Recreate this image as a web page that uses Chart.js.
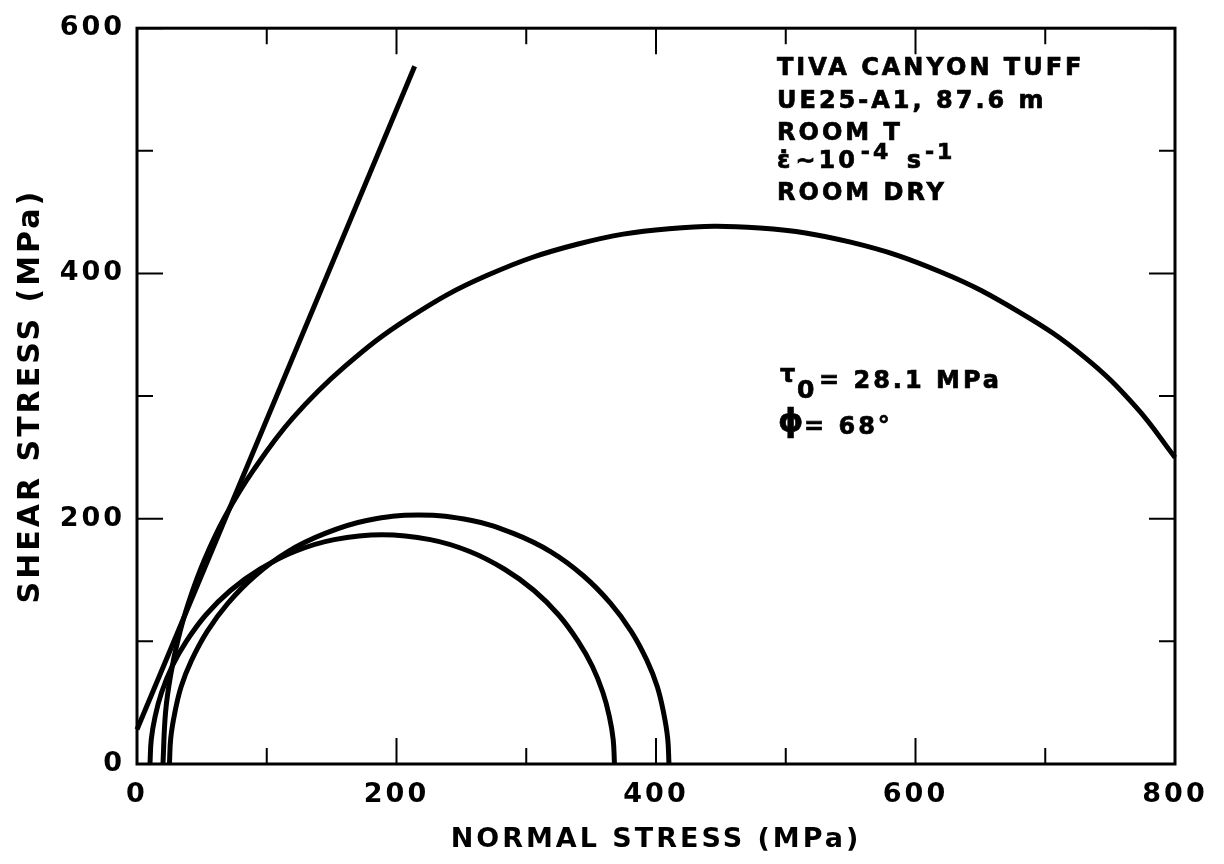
<!DOCTYPE html>
<html>
<head>
<meta charset="utf-8">
<script src="https://cdn.jsdelivr.net/npm/chart.js@4.4.1/dist/chart.umd.min.js"></script>
<style>
  html, body { margin: 0; padding: 0; background: #fff; }
  #wrap { width: 1224px; height: 864px; }
</style>
</head>
<body>
<div id="wrap"><canvas id="grafico"></canvas></div>
<script>
// Mohr circles (normal stress, shear stress in MPa)
const circuloMenorX = [10, 11, 14, 19, 27, 38, 53, 72, 95, 122, 152, 189, 226, 256, 283, 306, 325, 340, 351, 359, 364, 367, 368];
const circuloMenorY = [0, 20, 39, 58.5, 79.5, 100, 121.5, 141.5, 159, 173.5, 183, 187, 183, 173.5, 159, 141.5, 121.5, 100, 79.5, 58.5, 39, 20, 0];

const circuloMedioX = [25, 26, 29, 34, 42, 54, 70, 91, 116, 145, 177, 217, 258, 290, 319, 344, 365, 381, 393, 401, 406, 409, 410];
const circuloMedioY = [0, 21, 41, 63, 84.5, 108, 131, 153.5, 173, 188, 198.5, 203, 198.5, 188, 173, 153.5, 131, 108, 84.5, 63, 41, 21, 0];

const circuloMaiorX = [20, 22, 26, 32, 40, 52, 68, 90, 120, 160, 210, 270, 340, 410, 480, 550, 620, 680, 730, 770, 800];
const circuloMaiorY = [0, 42, 73, 103, 132.5, 166.5, 202, 240, 282, 324, 364, 398.5, 424, 436.5, 437, 425.5, 401, 368.5, 332, 291, 250];

// failure envelope, tau0 = 28.1 MPa, phi = 68 deg
const envoltoriaX = [0, 214];
const envoltoriaY = [28.1, 569];

const ticksX = [0, 100, 200, 300, 400, 500, 600, 700, 800];
const ticksY = [0, 100, 200, 300, 400, 500, 600];
const rotulosX = [0, 200, 400, 600, 800];
const rotulosY = [0, 200, 400, 600];

const FONTE = '"DejaVu Sans", "Liberation Sans", sans-serif';

function pares(xs, ys) {
  return xs.map((x, i) => ({ x: x, y: ys[i] }));
}

function serie(xs, ys, curva) {
  return {
    data: pares(xs, ys),
    showLine: true,
    borderColor: "#000",
    borderWidth: 5,
    pointRadius: 0,
    fill: false,
    tension: curva ? 0.4 : 0,
    clip: 6
  };
}

function escreve(ctx, texto, x, y, tamanho) {
  ctx.font = "bold " + tamanho + "px " + FONTE;
  ctx.fillText(texto, x, y);
  ctx.strokeText(texto, x, y);
  return x + ctx.measureText(texto).width;
}

const espacamento = {
  id: "espacamento",
  beforeDraw(chart) {
    chart.ctx.letterSpacing = "3px";
  }
};

const moldura = {
  id: "moldura",
  afterDatasetsDraw(chart) {
    const { ctx, chartArea: a, scales: { x, y } } = chart;
    ctx.save();
    ctx.strokeStyle = "#000";
    ctx.lineWidth = 2;
    ctx.beginPath();
    ticksX.forEach(v => {
      const px = x.getPixelForValue(v);
      const len = rotulosX.includes(v) ? 26 : 16;
      ctx.moveTo(px, a.bottom); ctx.lineTo(px, a.bottom - len);
      ctx.moveTo(px, a.top); ctx.lineTo(px, a.top + len);
    });
    ticksY.forEach(v => {
      const py = y.getPixelForValue(v);
      const len = rotulosY.includes(v) ? 26 : 16;
      ctx.moveTo(a.left, py); ctx.lineTo(a.left + len, py);
      ctx.moveTo(a.right, py); ctx.lineTo(a.right - len, py);
    });
    ctx.stroke();
    ctx.lineWidth = 3;
    ctx.strokeRect(a.left, a.top, a.right - a.left, a.bottom - a.top);
    ctx.restore();
  }
};

const anotacoes = {
  id: "anotacoes",
  afterDraw(chart) {
    const ctx = chart.ctx;
    ctx.save();
    ctx.fillStyle = "#000";
    ctx.strokeStyle = "#000";
    ctx.lineWidth = 0.7;
    ctx.textAlign = "left";
    ctx.textBaseline = "alphabetic";
    ctx.letterSpacing = "3px";
    const x0 = 777;
    escreve(ctx, "TIVA CANYON TUFF", x0, 75, 24);
    escreve(ctx, "UE25-A1, 87.6 m", x0, 108, 24);
    escreve(ctx, "ROOM T", x0, 140, 24);
    let x = escreve(ctx, "\u03B5\u0307", x0, 168, 24);
    x = escreve(ctx, "\u223C10", x + 2, 168, 24);
    x = escreve(ctx, "-4", x + 3, 159, 22);
    x = escreve(ctx, " s", x + 4, 168, 24);
    escreve(ctx, "-1", x + 1, 159, 22);
    escreve(ctx, "ROOM DRY", x0, 200, 24);

    escreve(ctx, "\u03C4", 780, 382, 24);
    escreve(ctx, "0", 797, 398, 25);
    escreve(ctx, "= 28.1 MPa", 819, 388, 24);
    escreve(ctx, "\u03D5", 778, 431, 32);
    escreve(ctx, "= 68\u00B0", 804, 434, 24);
    ctx.restore();
  }
};

new Chart(document.getElementById("grafico"), {
  type: "scatter",
  data: {
    datasets: [
      serie(envoltoriaX, envoltoriaY, false),
      serie(circuloMenorX, circuloMenorY, true),
      serie(circuloMedioX, circuloMedioY, true),
      serie(circuloMaiorX, circuloMaiorY, true)
    ]
  },
  options: {
    responsive: true,
    maintainAspectRatio: false,
    animation: false,
    layout: { padding: { top: 21, right: 49, bottom: 0, left: 0 } },
    plugins: {
      legend: { display: false },
      tooltip: { enabled: false }
    },
    scales: {
      x: {
        type: "linear",
        min: 0,
        max: 800,
        afterFit(scale) { scale.height = 100; },
        grid: { display: false, drawTicks: false },
        border: { display: false },
        ticks: {
          stepSize: 100,
          padding: 15,
          color: "#000",
          font: { family: FONTE, size: 27, weight: "bold" },
          callback: v => rotulosX.includes(v) ? String(v) : ""
        },
        title: {
          display: true,
          text: "NORMAL STRESS (MPa)",
          color: "#000",
          font: { family: FONTE, size: 27, weight: "bold" },
          padding: { top: 0, bottom: 8 }
        }
      },
      y: {
        type: "linear",
        min: 0,
        max: 600,
        afterFit(scale) { scale.width = 137; },
        grid: { display: false, drawTicks: false },
        border: { display: false },
        ticks: {
          stepSize: 100,
          padding: 12,
          color: "#000",
          font: { family: FONTE, size: 27, weight: "bold" },
          callback: v => rotulosY.includes(v) ? String(v) : ""
        },
        title: {
          display: true,
          text: "SHEAR STRESS (MPa)",
          color: "#000",
          font: { family: FONTE, size: 30, weight: "bold" },
          padding: { top: 13, bottom: 0 }
        }
      }
    }
  },
  plugins: [espacamento, moldura, anotacoes]
});
</script>
</body>
</html>
